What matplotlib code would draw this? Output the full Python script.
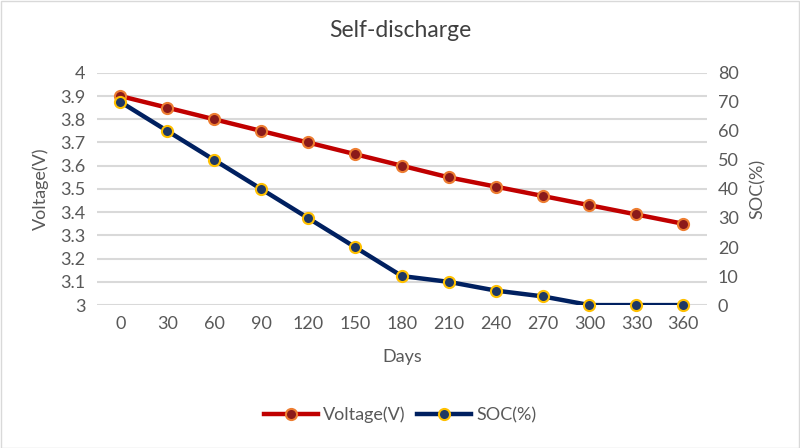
import matplotlib.pyplot as plt
from matplotlib.patches import Rectangle

# data
days = [0, 30, 60, 90, 120, 150, 180, 210, 240, 270, 300, 330, 360]
voltage = [3.9, 3.85, 3.8, 3.75, 3.7, 3.65, 3.6, 3.55, 3.51, 3.47, 3.43, 3.39, 3.35]
soc = [70, 60, 50, 40, 30, 20, 10, 8, 5, 3, 0, 0, 0]

v_ticks = [3, 3.1, 3.2, 3.3, 3.4, 3.5, 3.6, 3.7, 3.8, 3.9, 4]
v_labels = ['3', '3.1', '3.2', '3.3', '3.4', '3.5', '3.6', '3.7', '3.8', '3.9', '4']
soc_ticks = [0, 10, 20, 30, 40, 50, 60, 70, 80]

plt.rcParams['font.family'] = ['Lato', 'DejaVu Sans']
text_col = '#595959'
grid_col = '#D9D9D9'

fig = plt.figure(figsize=(8, 4.48), dpi=100)
fig.patches.append(Rectangle((0.001, 0.001), 0.998, 0.997, transform=fig.transFigure,
                             fill=False, edgecolor=grid_col, lw=1))

ax = fig.add_axes([0.121, 0.319, 0.7625, 0.5185])
ax2 = ax.twinx()

ax.set_xlim(-15, 375)
ax.set_ylim(3, 4)
ax2.set_ylim(0, 80)
ax.set_xticks(days)
ax.set_yticks(v_ticks, v_labels)
ax2.set_yticks(soc_ticks)

for a in (ax, ax2):
    for s in a.spines.values():
        s.set_visible(False)
    a.tick_params(length=0, labelsize=13, labelcolor=text_col, pad=8)
ax.grid(axis='y', color=grid_col, lw=1.5)
ax.set_axisbelow(True)

# voltage line
ax.plot(days, voltage, color='#C00000', lw=3.2, zorder=3)
ax.plot(days, voltage, ls='none', marker='o', ms=8, mfc='#8B1A1A', mec='#ED7D31',
        mew=1.5, zorder=4, clip_on=False)
# soc line
ax2.plot(days, soc, color='#002060', lw=3.2, zorder=3)
ax2.plot(days, soc, ls='none', marker='o', ms=8, mfc='#1F3864', mec='#FFC000',
         mew=1.5, zorder=4, clip_on=False)

ax.set_xlabel('Days', fontsize=13, color=text_col, labelpad=12)
ax.set_ylabel('Voltage(V)', fontsize=13, color=text_col, labelpad=8)
ax2.set_ylabel('SOC(%)', fontsize=13, color=text_col, labelpad=8)
fig.suptitle('Self-discharge', y=0.955, fontsize=16.5, color='#404040')

h1 = plt.Line2D([], [], color='#C00000', lw=3.2, marker='o', ms=8, mfc='#8B1A1A',
                mec='#ED7D31', mew=1.5)
h2 = plt.Line2D([], [], color='#002060', lw=3.2, marker='o', ms=8, mfc='#1F3864',
                mec='#FFC000', mew=1.5)
fig.legend([h1, h2], ['Voltage(V)', 'SOC(%)'], loc='center', bbox_to_anchor=(0.5, 0.074),
           ncol=2, frameon=False, fontsize=13, labelcolor=text_col,
           handlelength=3, handletextpad=0.3, columnspacing=0.6)

fig.savefig('out.png', dpi=100)
